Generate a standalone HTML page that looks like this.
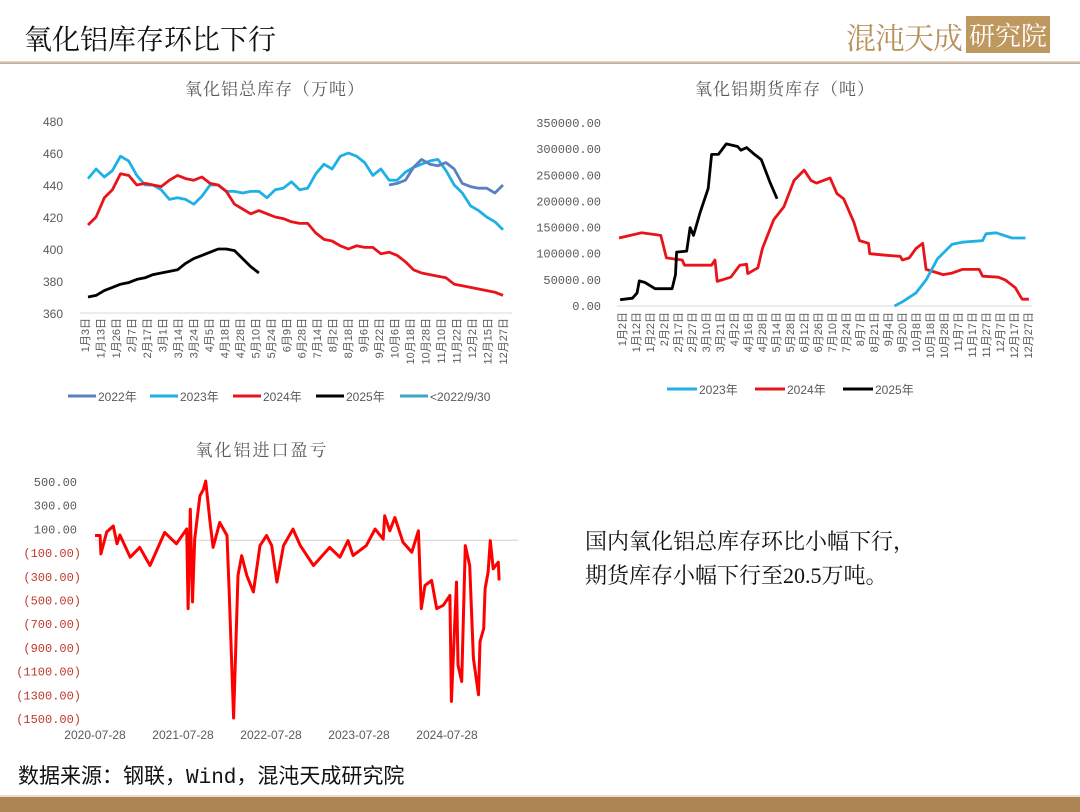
<!DOCTYPE html>
<html><head><meta charset="utf-8">
<style>
html,body{margin:0;padding:0;background:#fff;}
body{width:1080px;height:810px;position:relative;overflow:hidden;font-family:"Liberation Sans","Noto Sans CJK SC",sans-serif;}
.abs{position:absolute;white-space:nowrap;}
</style></head>
<body>
<div class="abs" style="left:24px;top:18px;font-size:28px;color:#111;font-family:'Liberation Serif','Noto Serif CJK SC',serif;">氧化铝库存环比下行</div>
<div class="abs" style="left:846px;top:14px;height:36px;">
  <span style="font-size:30px;color:#b8925c;font-family:'Noto Serif CJK SC',serif;letter-spacing:-1px;">混沌天成</span><span style="display:inline-block;background:#bf9860;color:#fff;font-size:26px;padding:0 3px;margin-left:4px;font-family:'Noto Serif CJK SC',serif;vertical-align:top;margin-top:2px;">研究院</span>
</div>
<div class="abs" style="left:0;top:61px;width:1080px;height:3px;background:linear-gradient(#e9ddd0,#b9a48e);"></div>
<div class="abs" style="left:585px;top:525px;font-size:22px;line-height:34px;color:#111;font-family:'Liberation Serif','Noto Serif CJK SC',serif;">国内氧化铝总库存环比小幅下行，<br>期货库存小幅下行至20.5万吨。</div>
<div class="abs" style="left:18px;top:760px;font-size:21px;color:#111;font-family:'Liberation Mono','Noto Sans CJK SC',monospace;">数据来源：钢联，Wind，混沌天成研究院</div>
<div class="abs" style="left:0;top:795px;width:1080px;height:15px;background:#ad8555;border-top:2px solid #e8ddd0;"></div>

<svg id="charts" width="1080" height="810" style="position:absolute;left:0;top:0;"></svg>

<script>
// ---------- Chart 1 data: 氧化铝总库存（万吨） weekly ----------
const c1Ticks = [360,380,400,420,440,460,480];
const c1Cats = ["1月3日","1月13日","1月26日","2月7日","2月17日","3月1日","3月14日","3月24日","4月5日","4月18日","4月28日","5月10日","5月24日","6月9日","6月28日","7月14日","8月2日","8月18日","9月6日","9月22日","10月6日","10月18日","10月28日","11月10日","11月22日","12月2日","12月15日","12月27日"];
const c1S2023 = [444,450,445,449,458,455,446,440,440,437,431,432,431,428,433,440,440,436,436,435,436,436,432,437,438,442,437,438,447,453,450,458,460,458,454,446,450,443,443,448,451,453,455,456,449,440,435,427,424,420,417,412];
const c1S2024 = [415,420,432,437,447,446,440,441,440,439,443,446,444,443,445,441,440,436,428,425,422,424,422,420,419,417,416,416,410,406,405,402,400,402,401,401,397,398,396,392,387,385,384,383,382,378,377,376,375,374,373,371];
const c1S2025 = [370,371,374,376,378,379,381,382,384,385,386,387,391,394,396,398,400,400,399,394,389,385];
const c1S2022 = [440,441,443,451,456,453,452,454,450,441,439,438,438,435,440];
const c1S2022Start = 37;
const c1Legend = ["2022年","2023年","2024年","2025年","<2022/9/30"];

// ---------- Chart 2 data: 氧化铝期货库存（吨） day-of-year ----------
const c2Ticks = [0,50000,100000,150000,200000,250000,300000,350000];
const c2Cats = ["1月2日","1月12日","1月22日","2月2日","2月17日","2月27日","3月10日","3月21日","4月2日","4月16日","4月28日","5月14日","5月28日","6月12日","6月26日","7月10日","7月24日","8月7日","8月21日","9月4日","9月20日","10月8日","10月18日","10月28日","11月7日","11月17日","11月27日","12月7日","12月17日","12月27日"];
const c2Day2024 = [1,21,38,43,57,59,83,86,88,100,108,114,115,124,128,138,147,156,165,171,176,188,194,200,209,214,222,223,238,250,252,258,264,270,273,288,296,305,320,323,337,343,352,358,364];
const c2Val2024 = [130000,140000,135000,92000,88000,78000,78000,88000,47000,55000,78000,80000,62000,73000,110000,165000,190000,240000,260000,240000,235000,245000,215000,205000,160000,125000,120000,100000,97000,95000,88000,92000,110000,120000,70000,60000,63000,70000,70000,57000,55000,50000,35000,13000,13000];
const c2Day2025 = [2,13,17,19,24,33,48,51,52,61,64,67,73,80,83,89,96,106,109,114,121,127,135,141];
const c2Val2025 = [12000,15000,25000,48000,45000,33000,33000,60000,103000,105000,150000,135000,180000,225000,290000,290000,310000,305000,298000,303000,290000,280000,235000,205000];
const c2Day2023 = [245,252,264,273,283,296,305,323,326,335,349,361];
const c2Val2023 = [0,8000,25000,50000,90000,118000,122000,125000,138000,140000,130000,130000];
const c2Legend = ["2023年","2024年","2025年"];

// ---------- Chart 3 data: 氧化铝进口盈亏 (months since 2020-07-28) ----------
const c3Ticks = [500,300,100,-100,-300,-500,-700,-900,-1100,-1300,-1500];
const c3XLabels = ["2020-07-28","2021-07-28","2022-07-28","2023-07-28","2024-07-28"];
const c3Month = [0,0.7,0.8,1.6,2.5,3.0,3.4,4.8,6.1,7.5,8.4,9.5,11.1,12.5,12.7,13.0,13.3,13.6,14.3,14.8,15.1,15.7,16.1,17.0,18.0,18.3,18.9,19.5,20.0,20.7,21.6,22.5,23.4,24.1,24.8,25.7,27.0,28.0,29.8,32.0,33.4,34.5,35.2,37.0,38.2,39.3,39.5,40.2,40.9,42.0,43.2,44.1,44.5,45.0,45.9,46.6,47.5,48.4,48.6,49.3,49.5,50.0,50.5,51.1,51.6,52.3,52.5,53.0,53.2,53.6,53.9,54.3,55.0,55.1];
const c3Val = [40,40,-115,70,120,-30,44,-143,-60,-213,-87,66,-30,95,-577,262,-520,10,374,430,500,150,-60,150,40,-437,-1500,-297,-130,-297,-437,-45,40,-45,-353,-45,94,-45,-213,-60,-143,-3,-129,-45,94,10,206,80,192,-17,-101,80,-577,-381,-339,-577,-549,-465,-1360,-353,-1052,-1192,-45,-213,-996,-1304,-857,-745,-409,-269,-3,-241,-185,-339];

const svg = document.getElementById('charts');
const NS = 'http://www.w3.org/2000/svg';
function mk(tag, attrs, parent){ const e=document.createElementNS(NS,tag); for(const k in attrs) e.setAttribute(k,attrs[k]); (parent||svg).appendChild(e); return e; }
function txt(s, attrs, parent){ const e=mk('text',attrs,parent); e.textContent=s; return e; }
const FONT = '"Liberation Sans","Noto Sans CJK SC",sans-serif';
const SERIF = '"Liberation Serif","Noto Serif CJK SC",serif';
function poly(pts){ return pts.map(p=>p[0].toFixed(1)+','+p[1].toFixed(1)).join(' '); }

// ===== Chart 1 =====
(function(){
  const g = mk('g',{});
  
  
  const x0=88, x1=503, yb=313, yt=121, vmin=360, vmax=480;
  const xS = i => x0 + i*(x1-x0)/51;
  const yS = v => yb - (v-vmin)/(vmax-vmin)*(yb-yt);
  const t = txt('氧化铝总库存（万吨）',{x:275,y:95,'text-anchor':'middle','font-size':17,fill:'#595959','font-family':SERIF,'letter-spacing':'1'},g);
   
  c1Ticks.forEach(v=>{ const e=txt(String(v),{x:63,y:yS(v)+5,'text-anchor':'end','font-size':12,fill:'#595959','font-family':FONT},g);
      });
  const ax = mk('line',{x1:80,x2:512,y1:yb,y2:yb,stroke:'#d9d9d9','stroke-width':1},g);
   
  c1Cats.forEach((c,i)=>{ const x=85+i*(503-85)/(c1Cats.length-1);
    const e=txt(c,{x:0,y:0,transform:`translate(${x+4},318) rotate(-90)`,'text-anchor':'end','font-size':11,fill:'#595959','font-family':FONT},g);
      });
  const series = [
    ['series-2023', c1S2023, 0, '#1fb0e6'],
    ['series-2024', c1S2024, 0, '#e8141a'],
    ['series-2025', c1S2025, 0, '#000000'],
    ['series-2022', c1S2022, c1S2022Start, '#5b7fbf']
  ];
  series.forEach(s=>{ const pts=s[1].map((v,i)=>[xS(i+s[2]),yS(v)]);
    const p=mk('polyline',{points:poly(pts),fill:'none',stroke:s[3],'stroke-width':2.8,'stroke-linejoin':'round'},g);
      });
  const cols=['#5b7fbf','#1fb0e6','#e8141a','#000000','#3aa9c9'];
  const lx=[68,150,233,316,400];
  c1Legend.forEach((l,i)=>{ const lg=mk('g',{},g);
     
    mk('line',{x1:lx[i],x2:lx[i]+28,y1:396,y2:396,stroke:cols[i],'stroke-width':3},lg);
    txt(l,{x:lx[i]+30,y:401,'font-size':12,fill:'#595959','font-family':FONT},lg); });
})();

// ===== Chart 2 =====
(function(){
  const g = mk('g',{});
  
  
  const xb0=619, xb1=1030, yb=306, yt=123;
  const xS = d => xb0 + (d-1)/364*(xb1-xb0);
  const yS = v => yb - v/350000*(yb-yt);
  const t = txt('氧化铝期货库存（吨）',{x:785,y:95,'text-anchor':'middle','font-size':17,fill:'#595959','font-family':SERIF,'letter-spacing':'1'},g);
   
  c2Ticks.forEach(v=>{ const e=txt(v===0?'0.00':v+'.00',{x:601,y:yS(v)+4,'text-anchor':'end','font-size':12,fill:'#595959','font-family':'"Liberation Mono",monospace'},g);
      });
  const ax = mk('line',{x1:617,x2:1032,y1:yb,y2:yb,stroke:'#d9d9d9','stroke-width':1},g);
   
  c2Cats.forEach((c,i)=>{ const x=622+i*(1028-622)/(c2Cats.length-1);
    const e=txt(c,{x:0,y:0,transform:`translate(${x+4},312) rotate(-90)`,'text-anchor':'end','font-size':11,fill:'#595959','font-family':FONT},g);
      });
  const series=[['series-2024',c2Day2024,c2Val2024,'#e8141a'],['series-2023',c2Day2023,c2Val2023,'#1fb0e6'],['series-2025',c2Day2025,c2Val2025,'#000000']];
  series.forEach(s=>{ const pts=s[1].map((d,i)=>[xS(d),yS(s[2][i])]);
    const p=mk('polyline',{points:poly(pts),fill:'none',stroke:s[3],'stroke-width':2.8,'stroke-linejoin':'round'},g);
      });
  const cols=['#1fb0e6','#e8141a','#000000'], lx=[667,755,843];
  c2Legend.forEach((l,i)=>{ const lg=mk('g',{},g);
     
    mk('line',{x1:lx[i],x2:lx[i]+30,y1:389,y2:389,stroke:cols[i],'stroke-width':3},lg);
    txt(l,{x:lx[i]+32,y:394,'font-size':12,fill:'#595959','font-family':FONT},lg); });
})();

// ===== Chart 3 =====
(function(){
  const g = mk('g',{});
  
  
  const x0=95, pxPerMonth=88/12, yTop=481, yBot=718;
  const xS = m => x0 + m*pxPerMonth;
  const yS = v => yTop + (500-v)/2000*(yBot-yTop);
  const t = txt('氧化铝进口盈亏',{x:262,y:456,'text-anchor':'middle','font-size':17,fill:'#595959','font-family':SERIF,'letter-spacing':'2'},g);
   
  c3Ticks.forEach(v=>{ const lbl = v<0 ? '('+Math.abs(v)+'.00)' : v+'.00';
    const e=txt(lbl,{x:v<0?81:77,y:yS(v)+5,'text-anchor':'end','font-size':12,fill:v<0?'#c0392b':'#595959','font-family':'"Liberation Mono",monospace'},g);
      });
  const zl = mk('line',{x1:95,x2:518,y1:yS(0),y2:yS(0),stroke:'#d0d0d0','stroke-width':1},g);
   
  c3XLabels.forEach((l,i)=>{ const e=txt(l,{x:xS(i*12),y:739,'text-anchor':'middle','font-size':12,fill:'#595959','font-family':FONT},g);
      });
  const pts=c3Month.map((m,i)=>[xS(m),yS(c3Val[i])]);
  const p=mk('polyline',{points:poly(pts),fill:'none',stroke:'#ff0000','stroke-width':3,'stroke-linejoin':'round'},g);
   
})();
</script>
</body></html>
